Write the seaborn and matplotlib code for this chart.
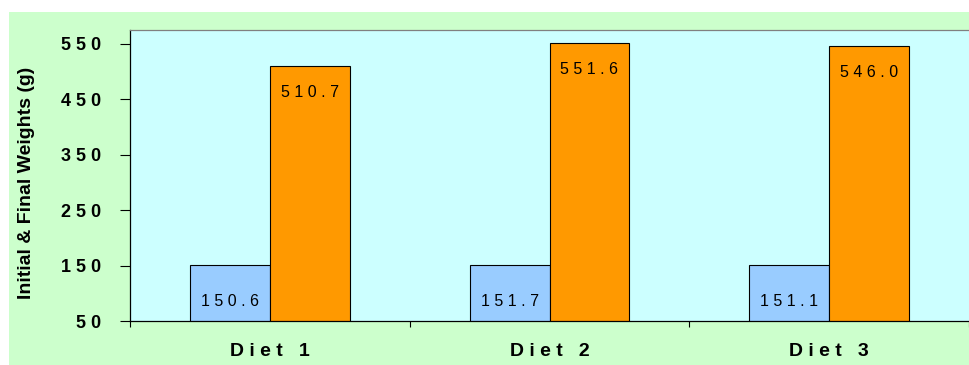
import matplotlib
matplotlib.use("Agg")
import matplotlib.pyplot as plt
from matplotlib.patches import Rectangle
from matplotlib.ticker import FixedLocator
import pandas as pd
import seaborn as sns

# Mean weights per diet group (g)
diets = ["Diet 1", "Diet 2", "Diet 3"]
initial_weights = [150.6, 151.7, 151.1]
final_weights = [510.7, 551.6, 546.0]
y_ticks = [50, 150, 250, 350, 450, 550]


def spaced(s):
    """Widen the letter spacing of a label."""
    return " ".join(s)


df = pd.DataFrame({
    "diet": diets * 2,
    "weight": initial_weights + final_weights,
    "stage": ["Initial"] * 3 + ["Final"] * 3,
})

sns.set_theme(style="white")
plt.rcParams["font.family"] = ["Liberation Sans", "DejaVu Sans"]
plt.rcParams["text.color"] = "black"
plt.rcParams["xtick.color"] = "black"
plt.rcParams["ytick.color"] = "black"

fig = plt.figure(figsize=(9.69, 3.65), dpi=100)
fig.patch.set_facecolor("white")
fig.patches.append(Rectangle((9 / 969, 0), 1, (365 - 12) / 365,
                             transform=fig.transFigure, facecolor="#CCFFCC",
                             edgecolor="none", zorder=-5))

ax = fig.add_axes([130 / 969, 44 / 365, 1 - 130 / 969, 291 / 365])
ax.set_zorder(1)
ax.set_facecolor("#CCFFFF")

sns.barplot(data=df, x="diet", y="weight", hue="stage",
            hue_order=["Initial", "Final"],
            palette={"Initial": "#99CCFF", "Final": "#FF9900"},
            saturation=1, width=0.571, edgecolor="black", linewidth=0.8,
            legend=False, ax=ax, zorder=2)

ax.set_ylim(50, 575)
ax.set_xlim(-0.5, 2.5)

# Value labels: initial weights near the base, final weights near the top
init_bars, final_bars = ax.containers[0], ax.containers[1]
for bar, v in zip(init_bars, initial_weights):
    ax.annotate(spaced(f"{v:.1f}"), (bar.get_x() + bar.get_width() / 2, 50),
                xytext=(0, 14), textcoords="offset points",
                ha="center", va="center", fontsize=11.5, color="black",
                zorder=3)
for bar, v in zip(final_bars, final_weights):
    ax.annotate(spaced(f"{v:.1f}"), (bar.get_x() + bar.get_width() / 2, v),
                xytext=(0, -19), textcoords="offset points",
                ha="center", va="center", fontsize=11.5, color="black",
                zorder=3)

# Axes styling
ax.set_yticks(y_ticks)
ax.set_yticklabels([spaced(str(t)) for t in y_ticks], fontsize=13,
                   fontweight="bold")
ax.tick_params(axis="y", which="major", direction="out", length=7, width=0.8,
               color="black", labelcolor="black", pad=14, left=True)
ax.set_xticks(range(len(diets)))
ax.set_xticklabels([spaced(d) for d in diets], fontsize=14, fontweight="bold")
ax.tick_params(axis="x", which="major", length=0, pad=16, labelcolor="black")
ax.xaxis.set_minor_locator(FixedLocator([-0.5, 0.5, 1.5, 2.5]))
ax.tick_params(axis="x", which="minor", direction="out", length=4.5,
               width=0.8, color="black", bottom=True)

ax.set_xlabel("")
ax.set_ylabel("")
for side in ["left", "bottom"]:
    ax.spines[side].set_color("black")
    ax.spines[side].set_linewidth(0.9)
ax.spines["top"].set_color("#808080")
ax.spines["top"].set_linewidth(0.9)
ax.spines["right"].set_visible(False)
ax.grid(False)

fig.text(27 / 969, 0.5, "Initial & Final Weights (g)", rotation=90,
         ha="center", va="center", fontsize=14, fontweight="bold",
         color="black")

fig.savefig("out.png", dpi=100, facecolor=fig.get_facecolor())
